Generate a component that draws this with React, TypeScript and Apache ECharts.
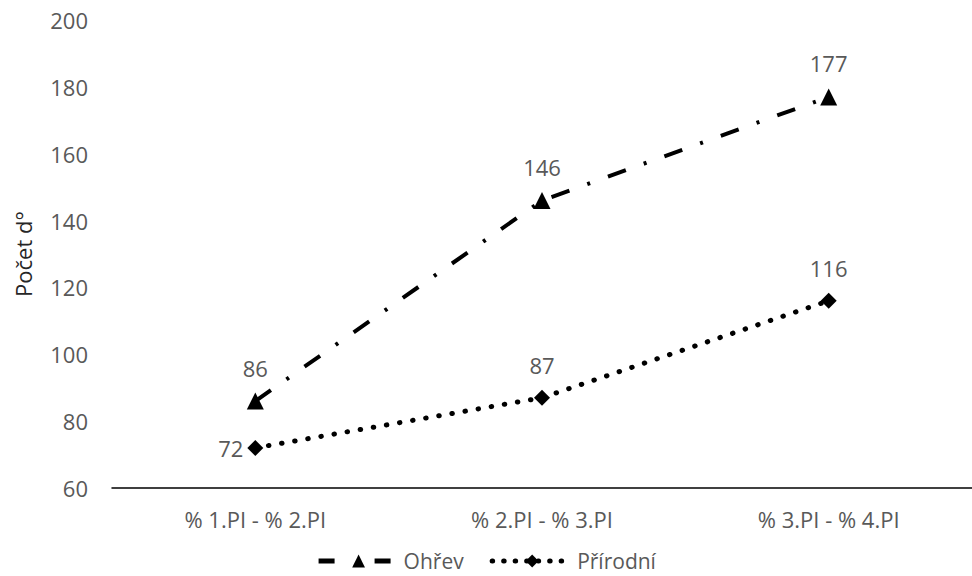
import React, { useEffect, useRef } from "react";
import * as echarts from "echarts";

const categories = ["% 1.PI - % 2.PI", "% 2.PI - % 3.PI", "% 3.PI - % 4.PI"];
const ohrev = [86, 146, 177];
const prirodni = [72, 87, 116];
const seriesNames = ["Ohřev", "Přírodní"];
const yAxisName = "Počet d°";

const FONT = "'Open Sans', 'Noto Sans', sans-serif";
const GREY = "#595959";

export default function App() {
  const ref = useRef<HTMLDivElement>(null);
  useEffect(() => {
    if (!ref.current) return;
    const chart = echarts.init(ref.current, null, { renderer: "svg" });
    chart.setOption({
      animation: false,
      backgroundColor: "#ffffff",
      textStyle: { fontFamily: FONT },
      grid: { left: 112, top: 20, width: 864, height: 468, containLabel: false },
      legend: {
        left: "center",
        top: 545,
        itemWidth: 80,
        itemHeight: 16,
        itemGap: 26,
        textStyle: { fontFamily: FONT, fontSize: 21, color: GREY, lineHeight: 22 },
        data: [
          {
            name: seriesNames[0],
            lineStyle: { width: 5, type: [16, 40], color: "#000000" },
          },
          {
            name: seriesNames[1],
            lineStyle: { width: 5, type: [0.5, 11], cap: "round", color: "#000000" },
          },
        ],
      },
      xAxis: {
        type: "category",
        data: categories,
        boundaryGap: true,
        axisLine: { show: true, lineStyle: { color: "#000000", width: 1.5 } },
        axisTick: { show: false },
        axisLabel: { fontFamily: FONT, fontSize: 22, color: GREY, margin: 20 },
        splitLine: { show: false },
      },
      yAxis: {
        type: "value",
        min: 60,
        max: 200,
        interval: 20,
        name: yAxisName,
        nameLocation: "middle",
        nameGap: 78,
        nameTextStyle: { fontFamily: FONT, fontSize: 22, color: "#262626" },
        axisLine: { show: false },
        axisTick: { show: false },
        axisLabel: { fontFamily: FONT, fontSize: 22, color: GREY, margin: 24 },
        splitLine: { show: false },
      },
      series: [
        {
          name: seriesNames[0],
          type: "line",
          data: ohrev,
          symbol: "triangle",
          symbolSize: 17,
          itemStyle: { color: "#000000" },
          lineStyle: { color: "#000000", width: 4, type: [19, 19, 3, 19] },
          label: {
            show: true,
            position: "top",
            distance: 14,
            fontFamily: FONT,
            fontSize: 22,
            color: GREY,
          },
        },
        {
          name: seriesNames[1],
          type: "line",
          data: prirodni.map((v, i) =>
            i === 0 ? { value: v, label: { position: "left", distance: 4 } } : v
          ),
          symbol: "diamond",
          symbolSize: 16,
          itemStyle: { color: "#000000" },
          lineStyle: { color: "#000000", width: 5, type: [0.5, 12.8], cap: "round" },
          label: {
            show: true,
            position: "top",
            distance: 14,
            fontFamily: FONT,
            fontSize: 22,
            color: GREY,
          },
        },
      ],
    });
    return () => chart.dispose();
  }, []);
  return (
    <div
      ref={ref}
      style={{ position: "absolute", left: 0, top: 0, width: 972, height: 576 }}
    />
  );
}
